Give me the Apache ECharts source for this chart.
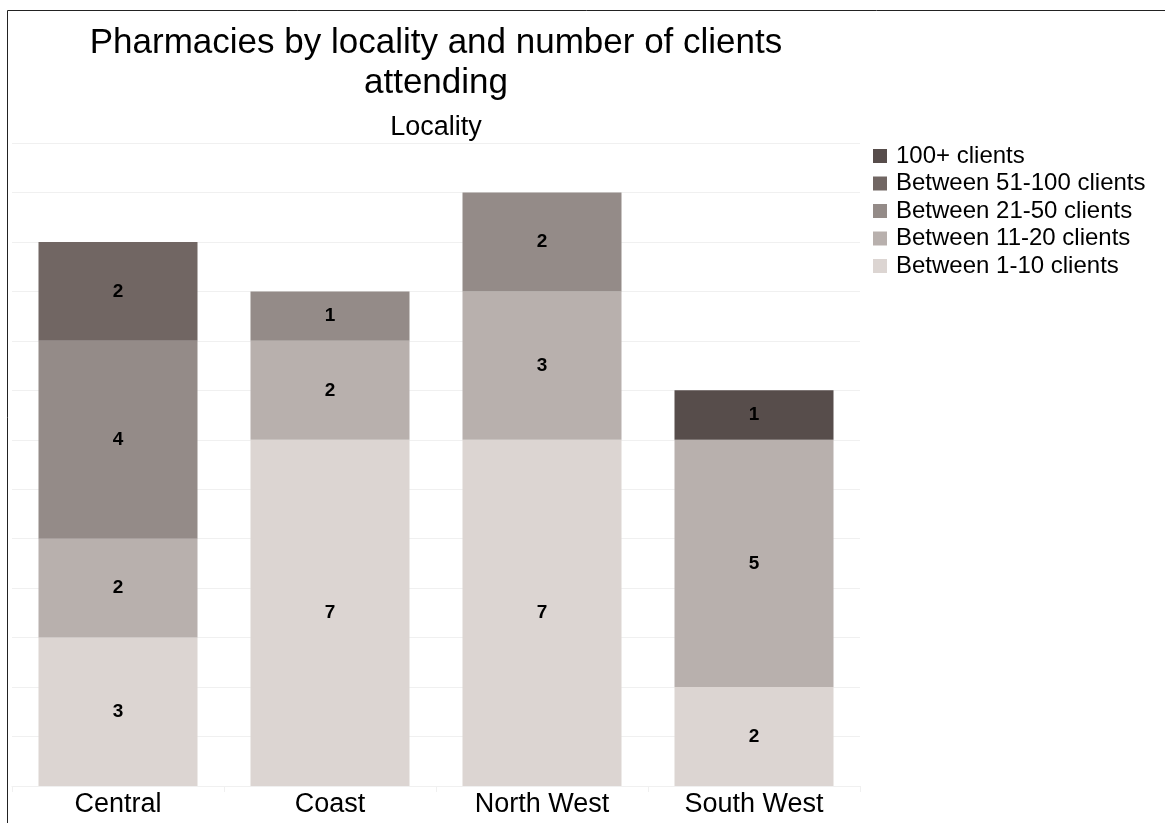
<!DOCTYPE html>
<html>
<head>
<meta charset="utf-8">
<script src="https://cdn.jsdelivr.net/npm/echarts@6/dist/echarts.min.js"></script>
<style>
  html, body { margin: 0; padding: 0; background: #fff; }
  #chart { width: 1165px; height: 823px; }
</style>
</head>
<body>
<div id="chart"></div>
<script>
var localities = ['Central', 'Coast', 'North West', 'South West'];
var bands = ['Between 1-10 clients', 'Between 11-20 clients', 'Between 21-50 clients', 'Between 51-100 clients', '100+ clients'];
var clients1to10 = [3, 7, 7, 2];
var clients11to20 = [2, 2, 3, 5];
var clients21to50 = [4, 1, 2, null];
var clients51to100 = [2, null, null, null];
var clients100plus = [null, null, null, 1];
var bandColors = ['#dcd5d2', '#b8b0ad', '#948b88', '#716663', '#574d4b'];

var values = [clients1to10, clients11to20, clients21to50, clients51to100, clients100plus];

var series = bands.map(function (name, i) {
  return {
    name: name,
    type: 'bar',
    stack: 'total',
    barWidth: '75%',
    data: values[i],
    itemStyle: { color: bandColors[i] },
    label: {
      show: true,
      position: 'inside',
      color: '#000',
      fontWeight: 'bold',
      fontSize: 19,
      textBorderWidth: 0,
      fontFamily: 'Liberation Sans'
    }
  };
});

var chart = echarts.init(document.getElementById('chart'));

chart.setOption({
  animation: false,
  textStyle: { fontFamily: 'Liberation Sans' },
  grid: { left: 12, right: 305, top: 143, bottom: 37, containLabel: false },
  legend: {
    orient: 'vertical',
    left: 868,
    top: 139,
    itemWidth: 14,
    itemHeight: 14,
    itemGap: 3.5,
    icon: 'rect',
    data: bands.slice().reverse(),
    textStyle: { fontSize: 24, color: '#000', fontFamily: 'Liberation Sans', padding: [0, 0, 0, 4] }
  },
  xAxis: {
    type: 'category',
    data: localities,
    axisLine: { lineStyle: { color: '#f0f0f0' } },
    axisTick: { show: true, length: 6, lineStyle: { color: '#f0f0f0' } },
    axisLabel: { fontSize: 27, color: '#000', margin: 5 }
  },
  yAxis: {
    type: 'value',
    min: 0,
    max: 13,
    interval: 1,
    axisLabel: { show: false },
    axisLine: { show: false },
    axisTick: { show: false },
    splitLine: { lineStyle: { color: '#f0f0f0' } }
  },
  graphic: [
    {
      type: 'rect',
      shape: { x: 7.5, y: 10.5, width: 1300, height: 1000 },
      style: { fill: 'none', stroke: '#222', lineWidth: 1 },
      z: -1
    },
    {
      type: 'text',
      x: 436, y: 43,
      style: { text: 'Pharmacies by locality and number of clients', font: '35px "Liberation Sans"', fill: '#000', align: 'center', verticalAlign: 'middle' }
    },
    {
      type: 'text',
      x: 436, y: 83,
      style: { text: 'attending', font: '35px "Liberation Sans"', fill: '#000', align: 'center', verticalAlign: 'middle' }
    },
    {
      type: 'text',
      x: 436, y: 128,
      style: { text: 'Locality', font: '27px "Liberation Sans"', fill: '#000', align: 'center', verticalAlign: 'middle' }
    }
  ],
  series: series
});
</script>
</body>
</html>
